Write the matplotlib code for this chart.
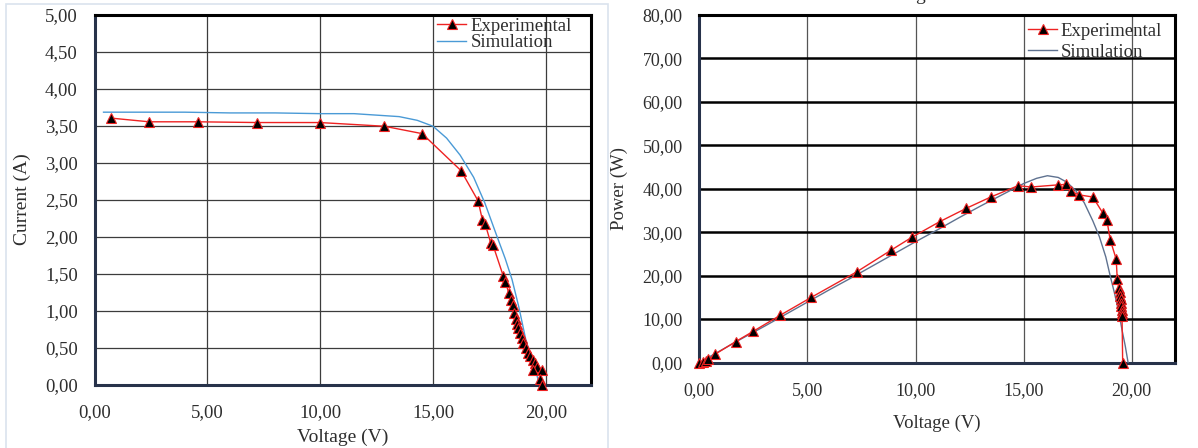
import matplotlib
matplotlib.use("Agg")
import matplotlib.pyplot as plt
from matplotlib.ticker import FuncFormatter
from matplotlib.patches import Rectangle
import numpy as np

# I-V curve (left panel)
iv_exp_voltage = [0.73, 2.42, 4.57, 7.22, 9.98, 12.84, 14.52, 16.24, 17.00, 17.19,
                  17.31, 17.56, 17.65, 18.12, 18.21, 18.36, 18.44, 18.53, 18.61, 18.66,
                  18.71, 18.78, 18.87, 18.93, 19.00, 19.10, 19.20, 19.31, 19.42, 19.51,
                  19.59, 19.44, 19.81, 19.74, 19.81]
iv_exp_current = [3.60, 3.55, 3.55, 3.54, 3.54, 3.49, 3.39, 2.89, 2.48, 2.22,
                  2.17, 1.91, 1.89, 1.46, 1.39, 1.23, 1.14, 1.07, 0.96, 0.89,
                  0.82, 0.76, 0.69, 0.63, 0.56, 0.49, 0.43, 0.38, 0.33, 0.29,
                  0.24, 0.20, 0.20, 0.08, 0.00]

iv_sim_voltage = [0.40, 2.0, 4.0, 6.0, 8.0, 10.0, 11.5, 12.5, 13.5, 14.3, 15.0, 15.6,
                  16.2, 16.8, 17.3, 17.8, 18.2, 18.5, 18.8, 19.1, 19.35, 19.55, 19.72]
iv_sim_current = [3.68, 3.68, 3.68, 3.67, 3.67, 3.66, 3.66, 3.64, 3.62, 3.57, 3.49, 3.33,
                  3.10, 2.80, 2.45, 2.03, 1.70, 1.42, 1.05, 0.62, 0.36, 0.18, 0.00]

# P-V curve (right panel)
pv_exp_voltage = [0.00, 0.19, 0.30, 0.42, 0.73, 1.68, 2.50, 3.75, 5.18, 7.29,
                  8.85, 9.82, 11.11, 12.35, 13.48, 14.74, 15.35, 16.60, 16.95, 17.20,
                  17.55, 18.20, 18.65, 18.85, 19.00, 19.28, 19.33, 19.40, 19.45, 19.47,
                  19.49, 19.50, 19.52, 19.53, 19.54, 19.55, 19.58]
pv_exp_power = [0.00, 0.20, 0.45, 0.70, 1.90, 4.80, 7.20, 10.90, 15.00, 20.90,
                25.80, 28.80, 32.40, 35.50, 38.10, 40.70, 40.40, 40.90, 41.00, 39.40,
                38.60, 38.10, 34.50, 32.80, 28.30, 23.80, 19.20, 17.20, 16.20, 15.40,
                14.60, 13.80, 13.00, 12.20, 11.50, 10.80, 0.00]

pv_sim_voltage = [0.0, 1.0, 2.0, 3.0, 4.0, 5.0, 6.0, 7.0, 8.0, 9.0, 10.0, 11.0, 12.0,
                  13.0, 14.0, 15.0, 15.6, 16.1, 16.6, 17.0, 17.4, 17.8, 18.2, 18.5,
                  18.8, 19.0, 19.2, 19.4, 19.55, 19.7, 19.83]
pv_sim_power = [0.0, 2.8, 5.6, 8.3, 11.1, 13.9, 16.7, 19.4, 22.2, 25.0, 27.8, 30.5, 33.3,
                36.0, 38.6, 41.2, 42.4, 43.0, 42.6, 41.5, 39.6, 36.8, 32.6, 29.0,
                24.3, 20.0, 16.0, 11.6, 7.5, 3.8, 0.0]

FONT = "Liberation Serif"
TEXT_COLOR = "#2e2e2e"
W, H = 1198, 448

plt.rcParams["font.family"] = [FONT, "DejaVu Serif"]

comma_fmt = FuncFormatter(lambda v, p: f"{v:.2f}".replace(".", ","))


def px_box(left, top, right, bottom):
    # pixel box -> figure fraction [x, y, w, h]
    return [left / W, 1 - bottom / H, (right - left) / W, (bottom - top) / H]


def style_axes(ax, ymax, ystep, fontsize):
    ax.set_xlim(0, 22)
    ax.set_ylim(0, ymax)
    ax.set_xticks(np.arange(0, 21, 5))
    ax.set_yticks(np.arange(0, ymax + ystep / 2, ystep))
    ax.xaxis.set_major_formatter(comma_fmt)
    ax.yaxis.set_major_formatter(comma_fmt)
    ax.tick_params(length=0, labelsize=fontsize, labelcolor=TEXT_COLOR)
    ax.tick_params(axis="y", pad=12)
    ax.tick_params(axis="x", pad=14)
    ax.set_axisbelow(True)
    for side in ["top", "right"]:
        ax.spines[side].set_color("black")
        ax.spines[side].set_linewidth(2.2)
    for side in ["left", "bottom"]:
        ax.spines[side].set_color("#27324a")
        ax.spines[side].set_linewidth(2.2)


fig = plt.figure(figsize=(W / 100, H / 100), dpi=100)

# chart area border of the left chart
fig.patches.append(Rectangle((6 / W, -0.01), (608 - 6) / W, 1.01 - 4 / H,
                             transform=fig.transFigure, fill=False,
                             edgecolor="#dae3ed", linewidth=1.2))

# cut-off caption at the top
fig.text(920 / W, 1.0, "g", ha="center", va="baseline", fontsize=14, color=TEXT_COLOR)

# ---- left: current vs voltage ----
ax1 = fig.add_axes(px_box(94.5, 14.5, 591, 384.5))
style_axes(ax1, 5, 0.5, 13.5)
ax1.grid(True, color="#3c3c3c", linewidth=0.9)

ax1.plot(iv_exp_voltage, iv_exp_current, color="#ee2222", linewidth=1.0,
         marker="^", markersize=6.5, markerfacecolor="black",
         markeredgecolor="#ee2222", markeredgewidth=0.8,
         label="Experimental", clip_on=False, zorder=4)
ax1.plot(iv_sim_voltage, iv_sim_current, color="#4a9ad6", linewidth=1.0,
         label="Simulation", zorder=3)

ax1.set_xlabel("Voltage (V)", fontsize=14, color=TEXT_COLOR, va="center")
ax1.set_ylabel("Current (A)", fontsize=14, color=TEXT_COLOR, va="center")
ax1.xaxis.set_label_coords(0.5, -0.142)
ax1.yaxis.set_label_coords(-0.146, 0.5)

ax1.legend(loc="upper left", bbox_to_anchor=(0.690, 0.992), frameon=False,
           fontsize=13.5, handlelength=1.55, handletextpad=0.25,
           labelspacing=-0.02, borderpad=0, borderaxespad=0, numpoints=1,
           labelcolor=TEXT_COLOR)

# ---- right: power vs voltage ----
ax2 = fig.add_axes(px_box(699.3, 15, 1175, 362.5))
style_axes(ax2, 80, 10, 13)
ax2.grid(True, axis="y", color="black", linewidth=1.8)
ax2.grid(True, axis="x", color="#555555", linewidth=0.9)

ax2.plot(pv_exp_voltage, pv_exp_power, color="#ee2222", linewidth=1.0,
         marker="^", markersize=6.5, markerfacecolor="black",
         markeredgecolor="#ee2222", markeredgewidth=0.8,
         label="Experimental", clip_on=False, zorder=4)
ax2.plot(pv_sim_voltage, pv_sim_power, color="#5f7290", linewidth=1.0,
         label="Simulation", zorder=3)

ax2.set_xlabel("Voltage (V)", fontsize=13.5, color=TEXT_COLOR, va="center")
ax2.set_ylabel("Power (W)", fontsize=13.5, color=TEXT_COLOR, va="center")
ax2.xaxis.set_label_coords(0.5, -0.174)
ax2.yaxis.set_label_coords(-0.169, 0.5)

ax2.legend(loc="upper left", bbox_to_anchor=(0.691, 0.978), frameon=False,
           fontsize=13.5, handlelength=1.55, handletextpad=0.17,
           labelspacing=0.22, borderpad=0, borderaxespad=0, numpoints=1,
           labelcolor=TEXT_COLOR)

fig.savefig("out.png", dpi=100)
